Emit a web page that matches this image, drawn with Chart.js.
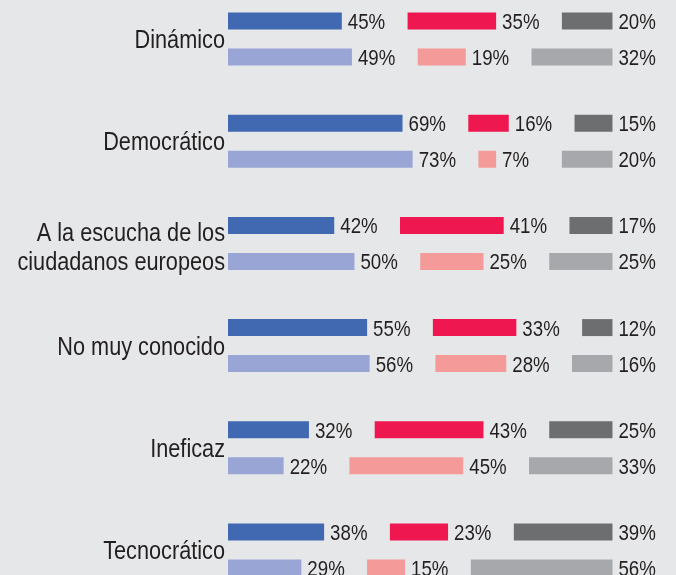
<!DOCTYPE html>
<html lang="es">
<head>
<meta charset="UTF-8">
<title>Imagen de la UE</title>
<script src="https://cdn.jsdelivr.net/npm/chart.js"></script>
<style>
  body { margin: 0; background: #e6e7e8; }
  #wrap { width: 676px; height: 575px; overflow: hidden; background: #e6e7e8; }
  #chart { display: block; margin-top: -12px; }
</style>
</head>
<body>
<div id="wrap"><canvas id="chart" width="676" height="613"></canvas></div>
<script>
const categorias = ['Dinámico', 'Democrático', ['A la escucha de los', 'ciudadanos europeos'], 'No muy conocido', 'Ineficaz', 'Tecnocrático'];

// fila superior de cada par
const positivoA = [45, 69, 42, 55, 32, 38];
const negativoA = [35, 16, 41, 33, 43, 23];
const nsncA     = [20, 15, 17, 12, 25, 39];
// fila inferior
const positivoB = [49, 73, 50, 56, 22, 29];
const negativoB = [19, 7, 25, 28, 45, 15];
const nsncB     = [32, 20, 25, 16, 33, 56];

const HUECO = 26; // hueco entre tramos (en unidades del eje) para la etiqueta

// tres tramos flotantes seguidos, separados por el hueco
function tramos(a, b, c) {
    const t1 = a.map(v => [0, v]);
    const t2 = a.map((v, i) => [v + HUECO, v + HUECO + b[i]]);
    const t3 = a.map((v, i) => {
        const ini = v + b[i] + 2 * HUECO;
        return [ini, ini + c[i]];
    });
    return [t1, t2, t3];
}

const filaA = tramos(positivoA, negativoA, nsncA);
const filaB = tramos(positivoB, negativoB, nsncB);
const valores = [positivoA, negativoA, nsncA, positivoB, negativoB, nsncB];

// no hay fuente estrecha instalada: se comprime Liberation Sans en horizontal
const fuente = '"Liberation Sans", Arial, sans-serif';

function textoEstrecho(ctx, txt, x, y, k) {
    ctx.save();
    ctx.translate(x, y);
    ctx.scale(k, 1);
    ctx.fillText(txt, 0, 0);
    ctx.restore();
}

const etiquetas = {
    id: 'etiquetas',
    afterDatasetsDraw(chart) {
        const ctx = chart.ctx;
        ctx.save();
        ctx.fillStyle = '#231f20';
        ctx.textBaseline = 'alphabetic';

        // porcentajes al final de cada tramo
        ctx.font = '22px ' + fuente;
        ctx.textAlign = 'left';
        chart.data.datasets.forEach((ds, d) => {
            chart.getDatasetMeta(d).data.forEach((bar, i) => {
                const p = bar.getProps(['x', 'y', 'base'], true);
                const fin = Math.max(p.x, p.base);
                textoEstrecho(ctx, valores[d][i] + '%', fin + 6, p.y + 8, 0.85);
            });
        });

        // nombres de categoría
        const ys = chart.scales.y;
        ctx.font = '26px ' + fuente;
        ctx.textAlign = 'right';
        categorias.forEach((lab, i) => {
            const lineas = Array.isArray(lab) ? lab : [lab];
            const yc = ys.getPixelForTick(i);
            lineas.forEach((l, k) => {
                const yy = yc + 9 + (k - (lineas.length - 1) / 2) * 29.5 + (lineas.length - 1) * 3;
                textoEstrecho(ctx, l, ys.right - 3, yy, 0.835);
            });
        });
        ctx.restore();
    }
};

new Chart(document.getElementById('chart'), {
    type: 'bar',
    data: {
        labels: categorias,
        datasets: [
            { label: 'Positivo A', data: filaA[0], stack: 'a', backgroundColor: '#4169b1' },
            { label: 'Negativo A', data: filaA[1], stack: 'a', backgroundColor: '#ef1750' },
            { label: 'NS/NC A', data: filaA[2], stack: 'a', backgroundColor: '#6d6e70' },
            { label: 'Positivo B', data: filaB[0], stack: 'b', backgroundColor: '#99a6d5' },
            { label: 'Negativo B', data: filaB[1], stack: 'b', backgroundColor: '#f49a98' },
            { label: 'NS/NC B', data: filaB[2], stack: 'b', backgroundColor: '#a7a8ab' }
        ]
    },
    options: {
        indexAxis: 'y',
        responsive: false,
        animation: false,
        categoryPercentage: 0.7045,
        barPercentage: 0.472,
        layout: { padding: { left: 0, right: 18, top: 0, bottom: 0 } },
        plugins: {
            legend: { display: false },
            tooltip: { enabled: false }
        },
        scales: {
            x: { display: false, min: 0, max: 170, stacked: false },
            y: {
                grid: { display: false, drawTicks: false },
                border: { display: false },
                ticks: { display: false },
                afterFit(s) {
                    s.width = 228;
                    s.paddingTop = 0;
                    s.paddingBottom = 0;
                }
            }
        }
    },
    plugins: [etiquetas]
});
</script>
</body>
</html>
